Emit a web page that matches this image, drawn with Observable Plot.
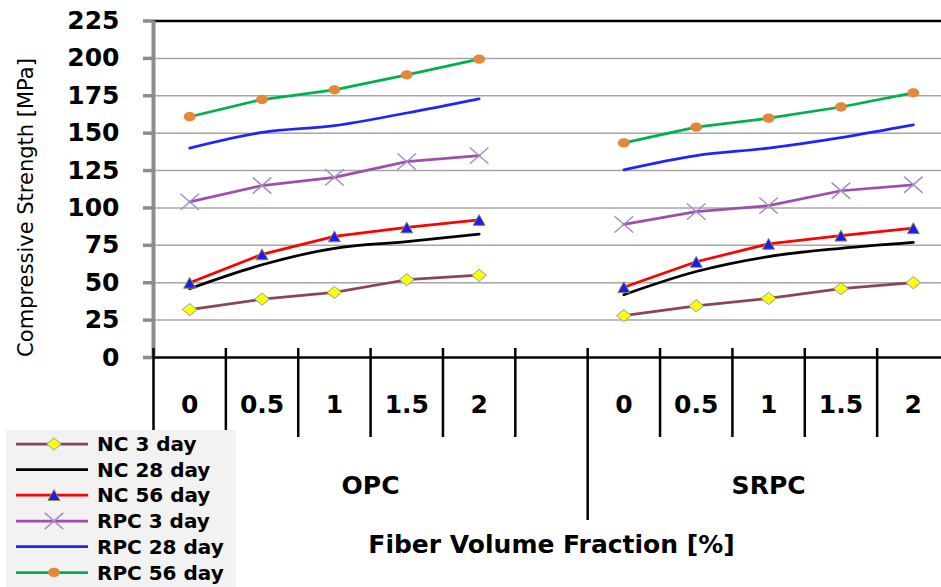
<!DOCTYPE html>
<html>
<head>
<meta charset="utf-8">
<script src="https://cdn.jsdelivr.net/npm/d3@7"></script>
<script src="https://cdn.jsdelivr.net/npm/@observablehq/plot@0.6"></script>
<style>
  html, body { margin: 0; padding: 0; background: #fff; }
  #wrap { position: relative; width: 941px; height: 587px; overflow: hidden; font-family: "DejaVu Sans", sans-serif; }
  #legend { position: absolute; left: 6px; top: 430px; width: 230px; height: 157px; background: #f2f2f2; }
</style>
</head>
<body>
<div id="wrap"><div id="chart"></div><div id="legend"></div></div>
<script>
// ---------- data ----------
const fiberLevels = ["0", "0.5", "1", "1.5", "2"];
const groups = ["OPC", "SRPC"];
const seriesNames = ["NC 3 day", "NC 28 day", "NC 56 day", "RPC 3 day", "RPC 28 day", "RPC 56 day"];
const yTicks = [0, 25, 50, 75, 100, 125, 150, 175, 200, 225];

const NC3_OPC    = [32, 39, 43.5, 52, 55];
const NC3_SRPC   = [28, 34.5, 39.5, 46, 50];
const NC28_OPC   = [46, 62, 73, 77.5, 82.5];
const NC28_SRPC  = [42, 57.5, 67.5, 73, 77];
const NC56_OPC   = [50, 69, 81, 87, 92];
const NC56_SRPC  = [47, 64, 76, 81.5, 86.5];
const RPC3_OPC   = [104, 115, 120.5, 131, 135];
const RPC3_SRPC  = [89, 97.5, 101.5, 111.5, 115.5];
const RPC28_OPC  = [140, 150.5, 155, 163.5, 173];
const RPC28_SRPC = [125.5, 135, 140, 147, 155.5];
const RPC56_OPC  = [161, 172.5, 179, 189, 199.5];
const RPC56_SRPC = [143.5, 154, 160, 167.5, 177];

const yTitle = "Compressive Strength [MPa]";
const xTitle = "Fiber Volume Fraction [%]";

// ---------- build table ----------
const seriesValues = [
  [NC3_OPC, NC3_SRPC], [NC28_OPC, NC28_SRPC], [NC56_OPC, NC56_SRPC],
  [RPC3_OPC, RPC3_SRPC], [RPC28_OPC, RPC28_SRPC], [RPC56_OPC, RPC56_SRPC]
];
// category slots: OPC 0..4, empty slot 5, SRPC 6..10
const groupStart = [0, 6];
const groupSlots = [6, 5];
const rows = [];
seriesNames.forEach((name, si) => {
  groups.forEach((g, gi) => {
    seriesValues[si][gi].forEach((v, i) => {
      rows.push({series: name, group: g, x: groupStart[gi] + i + 0.5, value: v});
    });
  });
});
const categoryRows = [];
groups.forEach((g, gi) => fiberLevels.forEach((f, i) => categoryRows.push({x: groupStart[gi] + i + 0.5, label: f})));
const groupRows = groups.map((g, gi) => ({x: groupStart[gi] + groupSlots[gi] / 2, label: g}));
const nSlots = 11;
const dividers = d3.range(0, nSlots + 1);
const groupEdges = [0, 6, 11];

// ---------- scales geometry ----------
const xRange = [153, 949];
const yRange = [357, 20.5];
const xPix = d3.scaleLinear().domain([0, nSlots]).range(xRange);
const yPix = d3.scaleLinear().domain([0, 225]).range(yRange);

// ---------- custom symbols (Excel-like, slightly wide) ----------
const ellipseSym = {draw(ctx, size) {
  const r = Math.sqrt(size / Math.PI), a = r * 1.18, b = r * 0.93, k = 0.5523;
  ctx.moveTo(a, 0);
  ctx.bezierCurveTo(a, b * k, a * k, b, 0, b);
  ctx.bezierCurveTo(-a * k, b, -a, b * k, -a, 0);
  ctx.bezierCurveTo(-a, -b * k, -a * k, -b, 0, -b);
  ctx.bezierCurveTo(a * k, -b, a, -b * k, a, 0);
  ctx.closePath();
}};
const diamondSym = {draw(ctx, size) {
  const r = Math.sqrt(size / Math.PI), a = r * 1.18, b = r * 0.98;
  ctx.moveTo(0, -b); ctx.lineTo(a, 0); ctx.lineTo(0, b); ctx.lineTo(-a, 0); ctx.closePath();
}};
const triangleSym = {draw(ctx, size) {
  const r = Math.sqrt(size / Math.PI), a = r * 1.05, b = r * 0.95;
  ctx.moveTo(0, -b); ctx.lineTo(a, b); ctx.lineTo(-a, b); ctx.closePath();
}};
const timesSym = {draw(ctx, size) {
  const r = Math.sqrt(size / Math.PI), a = r * 1.12, b = r * 0.98;
  ctx.moveTo(-a, -b); ctx.lineTo(a, b); ctx.moveTo(a, -b); ctx.lineTo(-a, b);
}};

const styles = {
  "NC 3 day":   {stroke: "#8b4654", curve: "linear", sym: diamondSym, r: 6.2, fill: "#ffff00", mstroke: "#7f9fb5", msw: 1},
  "NC 28 day":  {stroke: "#000000", curve: "monotone-x"},
  "NC 56 day":  {stroke: "#ff0000", curve: "linear", sym: triangleSym, r: 5.8, fill: "#1c1cf0", mstroke: "#8c9a4c", msw: 1},
  "RPC 3 day":  {stroke: "#9e4fae", curve: "linear", sym: timesSym, r: 8.3, fill: "none", mstroke: "#a58ac8", msw: 1.4},
  "RPC 28 day": {stroke: "#1f24ff", curve: "monotone-x"},
  "RPC 56 day": {stroke: "#00b050", curve: "linear", sym: ellipseSym, r: 5, fill: "#e3883a", mstroke: "none", msw: 0}
};

const FONT = "DejaVu Sans";
const seriesMarks = [];
seriesNames.forEach(name => {
  const st = styles[name];
  const d = rows.filter(r => r.series === name);
  seriesMarks.push(Plot.line(d, {x: "x", y: "value", z: "group", stroke: st.stroke, strokeWidth: 2.75, curve: st.curve}));
  if (st.sym) {
    seriesMarks.push(Plot.dot(d, {x: "x", y: "value", symbol: st.sym, r: st.r, fill: st.fill, stroke: st.mstroke, strokeWidth: st.msw}));
  }
});

const chart = Plot.plot({
  width: 941,
  height: 587,
  margin: 0,
  style: {background: "transparent", fontFamily: FONT, overflow: "visible"},
  x: {domain: [0, nSlots], range: xRange, axis: null},
  y: {domain: [0, 225], range: yRange, axis: null},
  marks: [
    // gridlines
    Plot.ruleY(yTicks.filter(t => t > 0 && t < 225), {x1: 0, x2: nSlots, stroke: "#a6a6a6", strokeWidth: 1.5}),
    // top border & baseline
    Plot.ruleY([225], {x1: 0, x2: nSlots, stroke: "#000", strokeWidth: 2.5}),
    Plot.ruleY([0], {x1: 0, x2: nSlots, stroke: "#000", strokeWidth: 2.5}),
    // y axis (gray) with ticks
    Plot.ruleY(yTicks, {x1: xPix.invert(143), x2: 0, stroke: "#8c8c8c", strokeWidth: 3.5}),
    Plot.ruleX([0], {y1: 0, y2: 225, stroke: "#8c8c8c", strokeWidth: 4}),
    // category dividers
    Plot.ruleX(dividers.filter(d => !groupEdges.includes(d)), {y1: yPix.invert(348), y2: yPix.invert(437), stroke: "#000", strokeWidth: 2.5}),
    Plot.ruleX(groupEdges, {y1: yPix.invert(348), y2: yPix.invert(520), stroke: "#000", strokeWidth: 2.5}),
    // y tick labels
    Plot.text(yTicks, {x: xPix.invert(119), y: d => d, text: d => String(d), textAnchor: "end", fontSize: 25, fontWeight: "bold", fill: "#000"}),
    // category labels
    Plot.text(categoryRows, {x: "x", y: yPix.invert(404), text: "label", fontSize: 25, fontWeight: "bold", fill: "#000"}),
    Plot.text(groupRows, {x: "x", y: yPix.invert(485), text: "label", fontSize: 25, fontWeight: "bold", fill: "#000"}),
    // axis titles
    Plot.text([xTitle], {x: nSlots / 2, y: yPix.invert(544), text: d => d, fontSize: 25, fontWeight: "bold", fill: "#000"}),
    Plot.text([yTitle], {x: xPix.invert(26), y: yPix.invert(207), text: d => d, rotate: -90, fontSize: 21, fill: "#000"}),
    ...seriesMarks
  ]
});
document.getElementById("chart").appendChild(chart);

// ---------- legend ----------
const legend = d3.select("#legend").append("svg").attr("width", 230).attr("height", 157)
  .style("display", "block");
const rowY = [14, 39.5, 65, 91, 116.5, 142.5];
seriesNames.forEach((name, i) => {
  const st = styles[name];
  const g = legend.append("g").attr("transform", `translate(0,${rowY[i]})`);
  g.append("line").attr("x1", 10).attr("x2", 82).attr("y1", 0).attr("y2", 0)
    .attr("stroke", st.stroke).attr("stroke-width", 2.75);
  if (st.sym) {
    g.append("path").attr("transform", "translate(48,0)")
      .attr("d", d3.symbol(st.sym, Math.PI * st.r * st.r)())
      .attr("fill", st.fill).attr("stroke", st.mstroke).attr("stroke-width", st.msw);
  }
  g.append("text").attr("x", 91).attr("y", 0).attr("dy", "0.36em")
    .attr("font-family", FONT).attr("font-weight", "bold").attr("font-size", 20).attr("fill", "#000")
    .text(name);
});
</script>
</body>
</html>
